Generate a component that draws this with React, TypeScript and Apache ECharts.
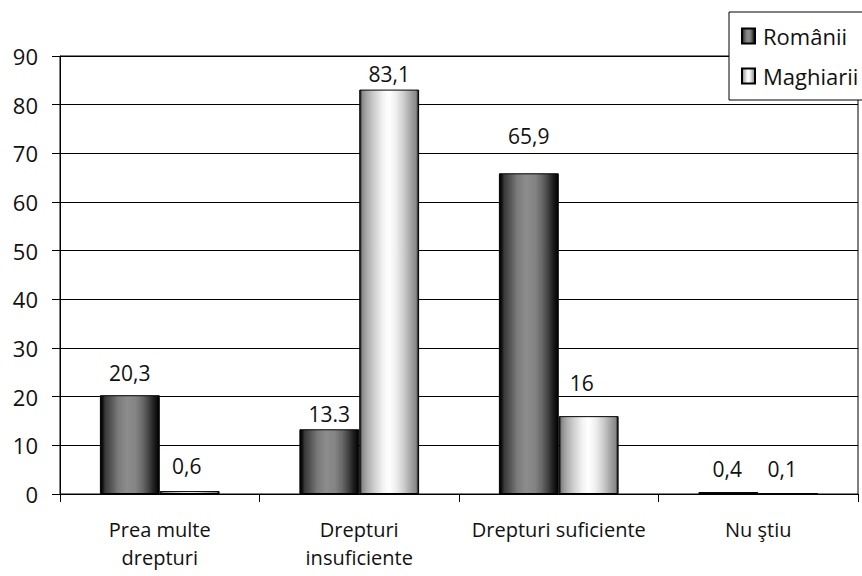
import React, { useEffect, useRef } from "react";
import * as echarts from "echarts";

const categories = ["Prea multe\ndrepturi", "Drepturi\ninsuficiente", "Drepturi suficiente", "Nu ştiu"];
const seriesNames = ["Românii", "Maghiarii"];
const romaniValues = [20.3, 13.3, 65.9, 0.4];
const maghiariValues = [0.6, 83.1, 16, 0.1];
const romaniLabels = ["20,3", "13.3", "65,9", "0,4"];
const maghiariLabels = ["0,6", "83,1", "16", "0,1"];
const yTicks = [0, 10, 20, 30, 40, 50, 60, 70, 80, 90];

// layout-only label nudges (dx, dy) in pixels
const romaniLabelNudge = [[0, -7], [0, 0], [0, -22], [-1, -8]];
const maghiariLabelNudge = [[-3, -10], [0, 0], [-7, -18], [-6, -9]];

const FONT = "Open Sans";

const darkGrad = new echarts.graphic.LinearGradient(0, 0, 1, 0, [
  { offset: 0, color: "#000000" },
  { offset: 0.04, color: "#111111" },
  { offset: 0.08, color: "#3a3a3a" },
  { offset: 0.18, color: "#555555" },
  { offset: 0.3, color: "#7a7a7a" },
  { offset: 0.45, color: "#8c8c8c" },
  { offset: 0.6, color: "#848484" },
  { offset: 0.72, color: "#686868" },
  { offset: 0.82, color: "#444444" },
  { offset: 0.9, color: "#222222" },
  { offset: 1, color: "#000000" },
]);

const lightGrad = new echarts.graphic.LinearGradient(0, 0, 1, 0, [
  { offset: 0, color: "#000000" },
  { offset: 0.04, color: "#888888" },
  { offset: 0.12, color: "#aaaaaa" },
  { offset: 0.25, color: "#d0d0d0" },
  { offset: 0.4, color: "#f4f4f4" },
  { offset: 0.5, color: "#ffffff" },
  { offset: 0.62, color: "#eeeeee" },
  { offset: 0.75, color: "#cccccc" },
  { offset: 0.88, color: "#a0a0a0" },
  { offset: 0.96, color: "#888888" },
  { offset: 1, color: "#000000" },
]);

export default function App() {
  const ref = useRef<HTMLDivElement>(null);
  useEffect(() => {
    if (!ref.current) return;
    const chart = echarts.init(ref.current, null, { renderer: "svg" });
    const mkData = (vals: number[], labels: string[], nudge: number[][]) =>
      vals.map((v, i) => ({
        value: v,
        label: { formatter: labels[i], offset: nudge[i] },
      }));
    const labelStyle = {
      show: true,
      position: "top",
      distance: 5,
      fontFamily: FONT,
      fontSize: 21,
      color: "#111",
    };
    chart.setOption({
      animation: false,
      backgroundColor: "#ffffff",
      textStyle: { fontFamily: FONT },
      grid: {
        left: 60,
        right: 4,
        top: 56,
        bottom: 82,
        show: true,
        borderColor: "#000",
        borderWidth: 1,
        backgroundColor: "transparent",
      },
      legend: {
        orient: "vertical",
        left: 729,
        top: 12,
        data: seriesNames,
        backgroundColor: "#ffffff",
        borderColor: "#000",
        borderWidth: 1,
        padding: [13, 12, 13, 12],
        itemWidth: 13,
        itemHeight: 15,
        itemGap: 18,
        icon: "rect",
        textStyle: { fontFamily: FONT, fontSize: 22, color: "#111", padding: [0, 0, 0, 3] },
        z: 10,
      },
      xAxis: {
        type: "category",
        data: categories,
        axisLine: { show: true, lineStyle: { color: "#000", width: 1 } },
        axisTick: { show: true, length: 8, lineStyle: { color: "#000" } },
        axisLabel: {
          fontFamily: FONT,
          fontSize: 20,
          color: "#111",
          margin: 21,
          lineHeight: 28,
          interval: 0,
        },
      },
      yAxis: {
        type: "value",
        min: yTicks[0],
        max: yTicks[yTicks.length - 1],
        interval: 10,
        axisLine: { show: true, lineStyle: { color: "#000", width: 1 } },
        axisTick: { show: true, length: 8, lineStyle: { color: "#000" } },
        splitLine: { show: true, lineStyle: { color: "#000", width: 1 } },
        axisLabel: {
          fontFamily: FONT,
          fontSize: 22,
          color: "#111",
          margin: 22,
        },
      },
      series: [
        {
          name: seriesNames[0],
          type: "bar",
          barGap: "0%",
          barCategoryGap: "40%",
          data: mkData(romaniValues, romaniLabels, romaniLabelNudge),
          itemStyle: { color: darkGrad, borderColor: "#000", borderWidth: 1 },
          label: labelStyle,
        },
        {
          name: seriesNames[1],
          type: "bar",
          barGap: "0%",
          barCategoryGap: "40%",
          data: mkData(maghiariValues, maghiariLabels, maghiariLabelNudge),
          itemStyle: { color: lightGrad, borderColor: "#000", borderWidth: 1 },
          label: labelStyle,
        },
      ],
    });
    return () => chart.dispose();
  }, []);
  return (
    <div
      ref={ref}
      style={{ position: "absolute", left: 0, top: 0, width: 862, height: 576 }}
    />
  );
}
